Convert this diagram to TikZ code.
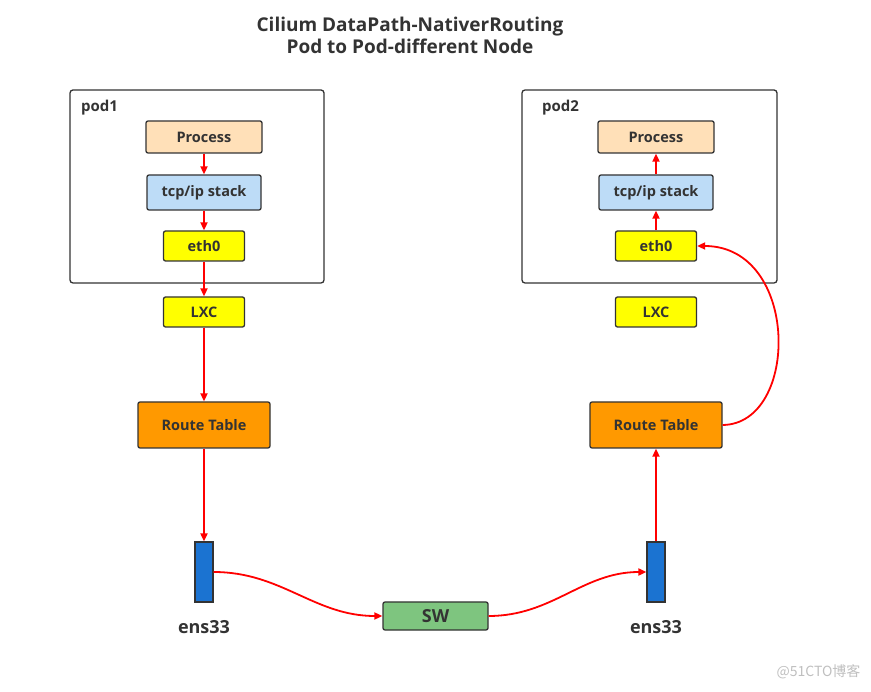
\documentclass[tikz,border=0pt]{standalone}
\usepackage{fontspec}
\setmainfont{Open Sans}
\newfontfamily\cjkfont{Noto Sans CJK SC}
\usetikzlibrary{arrows.meta}
\definecolor{txt}{HTML}{333333}
\definecolor{peach}{HTML}{FFE0B8}
\definecolor{lblue}{HTML}{BDDCF7}
\definecolor{yel}{HTML}{FFFF00}
\definecolor{orng}{HTML}{FF9900}
\definecolor{nic}{HTML}{1B73D1}
\definecolor{swg}{HTML}{7EC57F}
\definecolor{arr}{HTML}{FF0000}
\tikzset{
  box/.style={draw=txt, line width=1.3pt, rounded corners=2pt, inner sep=0pt,
     font=\fontsize{14.5}{17}\selectfont\bfseries, text=txt},
  podbox/.style={draw=txt, line width=1.3pt, rounded corners=3pt, inner sep=0pt},
  lbl/.style={font=\fontsize{15}{18}\selectfont\bfseries, text=txt, inner sep=0pt},
  flow/.style={draw=arr, line width=1.8pt, -{Triangle[length=8pt,width=7pt]}},
}
\begin{document}
\begin{tikzpicture}[x=1pt,y=-1pt]
\useasboundingbox (0,0) rectangle (871,692);
% title
\node[font=\fontsize{19}{22}\selectfont\bfseries, text=txt, align=center] (title) at (410,35) {Cilium DataPath-NativerRouting\\Pod to Pod-different Node};
% pods
\node[podbox, minimum width=254pt, minimum height=193pt] (pod1) at (197,186.5) {};
\node[lbl, anchor=west] (pod1l) at (81,108) {pod1};
\node[podbox, minimum width=255pt, minimum height=193pt] (pod2) at (649.5,186.5) {};
\node[lbl, anchor=west] (pod2l) at (542,108) {pod2};
% left stack
\node[box, fill=peach, minimum width=116pt, minimum height=32pt] (p1) at (204,137) {Process};
\node[box, fill=lblue, minimum width=114pt, minimum height=35pt] (t1) at (204,192.5) {tcp/ip stack};
\node[box, fill=yel, minimum width=81pt, minimum height=30pt] (e1) at (204,246) {eth0};
\node[box, fill=yel, minimum width=81pt, minimum height=30pt] (l1) at (204,312) {LXC};
\node[box, fill=orng, minimum width=132pt, minimum height=46pt] (r1) at (204,425) {Route Table};
\node[draw=txt, line width=1.2pt, fill=nic, minimum width=18pt, minimum height=60pt, inner sep=0pt] (n1) at (204,572) {};
\node[lbl, font=\fontsize{18}{21}\selectfont\bfseries] (n1l) at (204,627) {ens33};
% right stack
\node[box, fill=peach, minimum width=116pt, minimum height=32pt] (p2) at (656,137) {Process};
\node[box, fill=lblue, minimum width=114pt, minimum height=35pt] (t2) at (656,192.5) {tcp/ip stack};
\node[box, fill=yel, minimum width=81pt, minimum height=30pt] (e2) at (656,246) {eth0};
\node[box, fill=yel, minimum width=81pt, minimum height=30pt] (l2) at (656,312) {LXC};
\node[box, fill=orng, minimum width=132pt, minimum height=46pt] (r2) at (656,425) {Route Table};
\node[draw=txt, line width=1.2pt, fill=nic, minimum width=18pt, minimum height=60pt, inner sep=0pt] (n2) at (656,572) {};
\node[lbl, font=\fontsize{18}{21}\selectfont\bfseries] (n2l) at (656,627) {ens33};
% switch
\node[box, fill=swg, minimum width=105pt, minimum height=28pt, font=\fontsize{18}{21}\selectfont\bfseries] (sw) at (435.5,616) {SW};
% watermark
\node[text=black!25, font=\cjkfont\fontsize{14}{16}\selectfont, anchor=east] (wm) at (864,672) {@51CTO博客};
% arrows
\draw[flow] (p1) -- (t1);
\draw[flow] (t1) -- (e1);
\draw[flow] (e1) -- (l1);
\draw[flow] (l1) -- (r1);
\draw[flow] (r1) -- (n1);
\draw[flow] (n1.east) to[out=0,in=180] (sw.west);
\draw[flow] (sw.east) to[out=0,in=180] (n2.west);
\draw[flow] (n2) -- (r2);
\draw[flow] (r2.east) .. controls (800,424) and (800,246) .. (e2.east);
\draw[flow] (e2) -- (t2);
\draw[flow] (t2) -- (p2);
\end{tikzpicture}
\end{document}
